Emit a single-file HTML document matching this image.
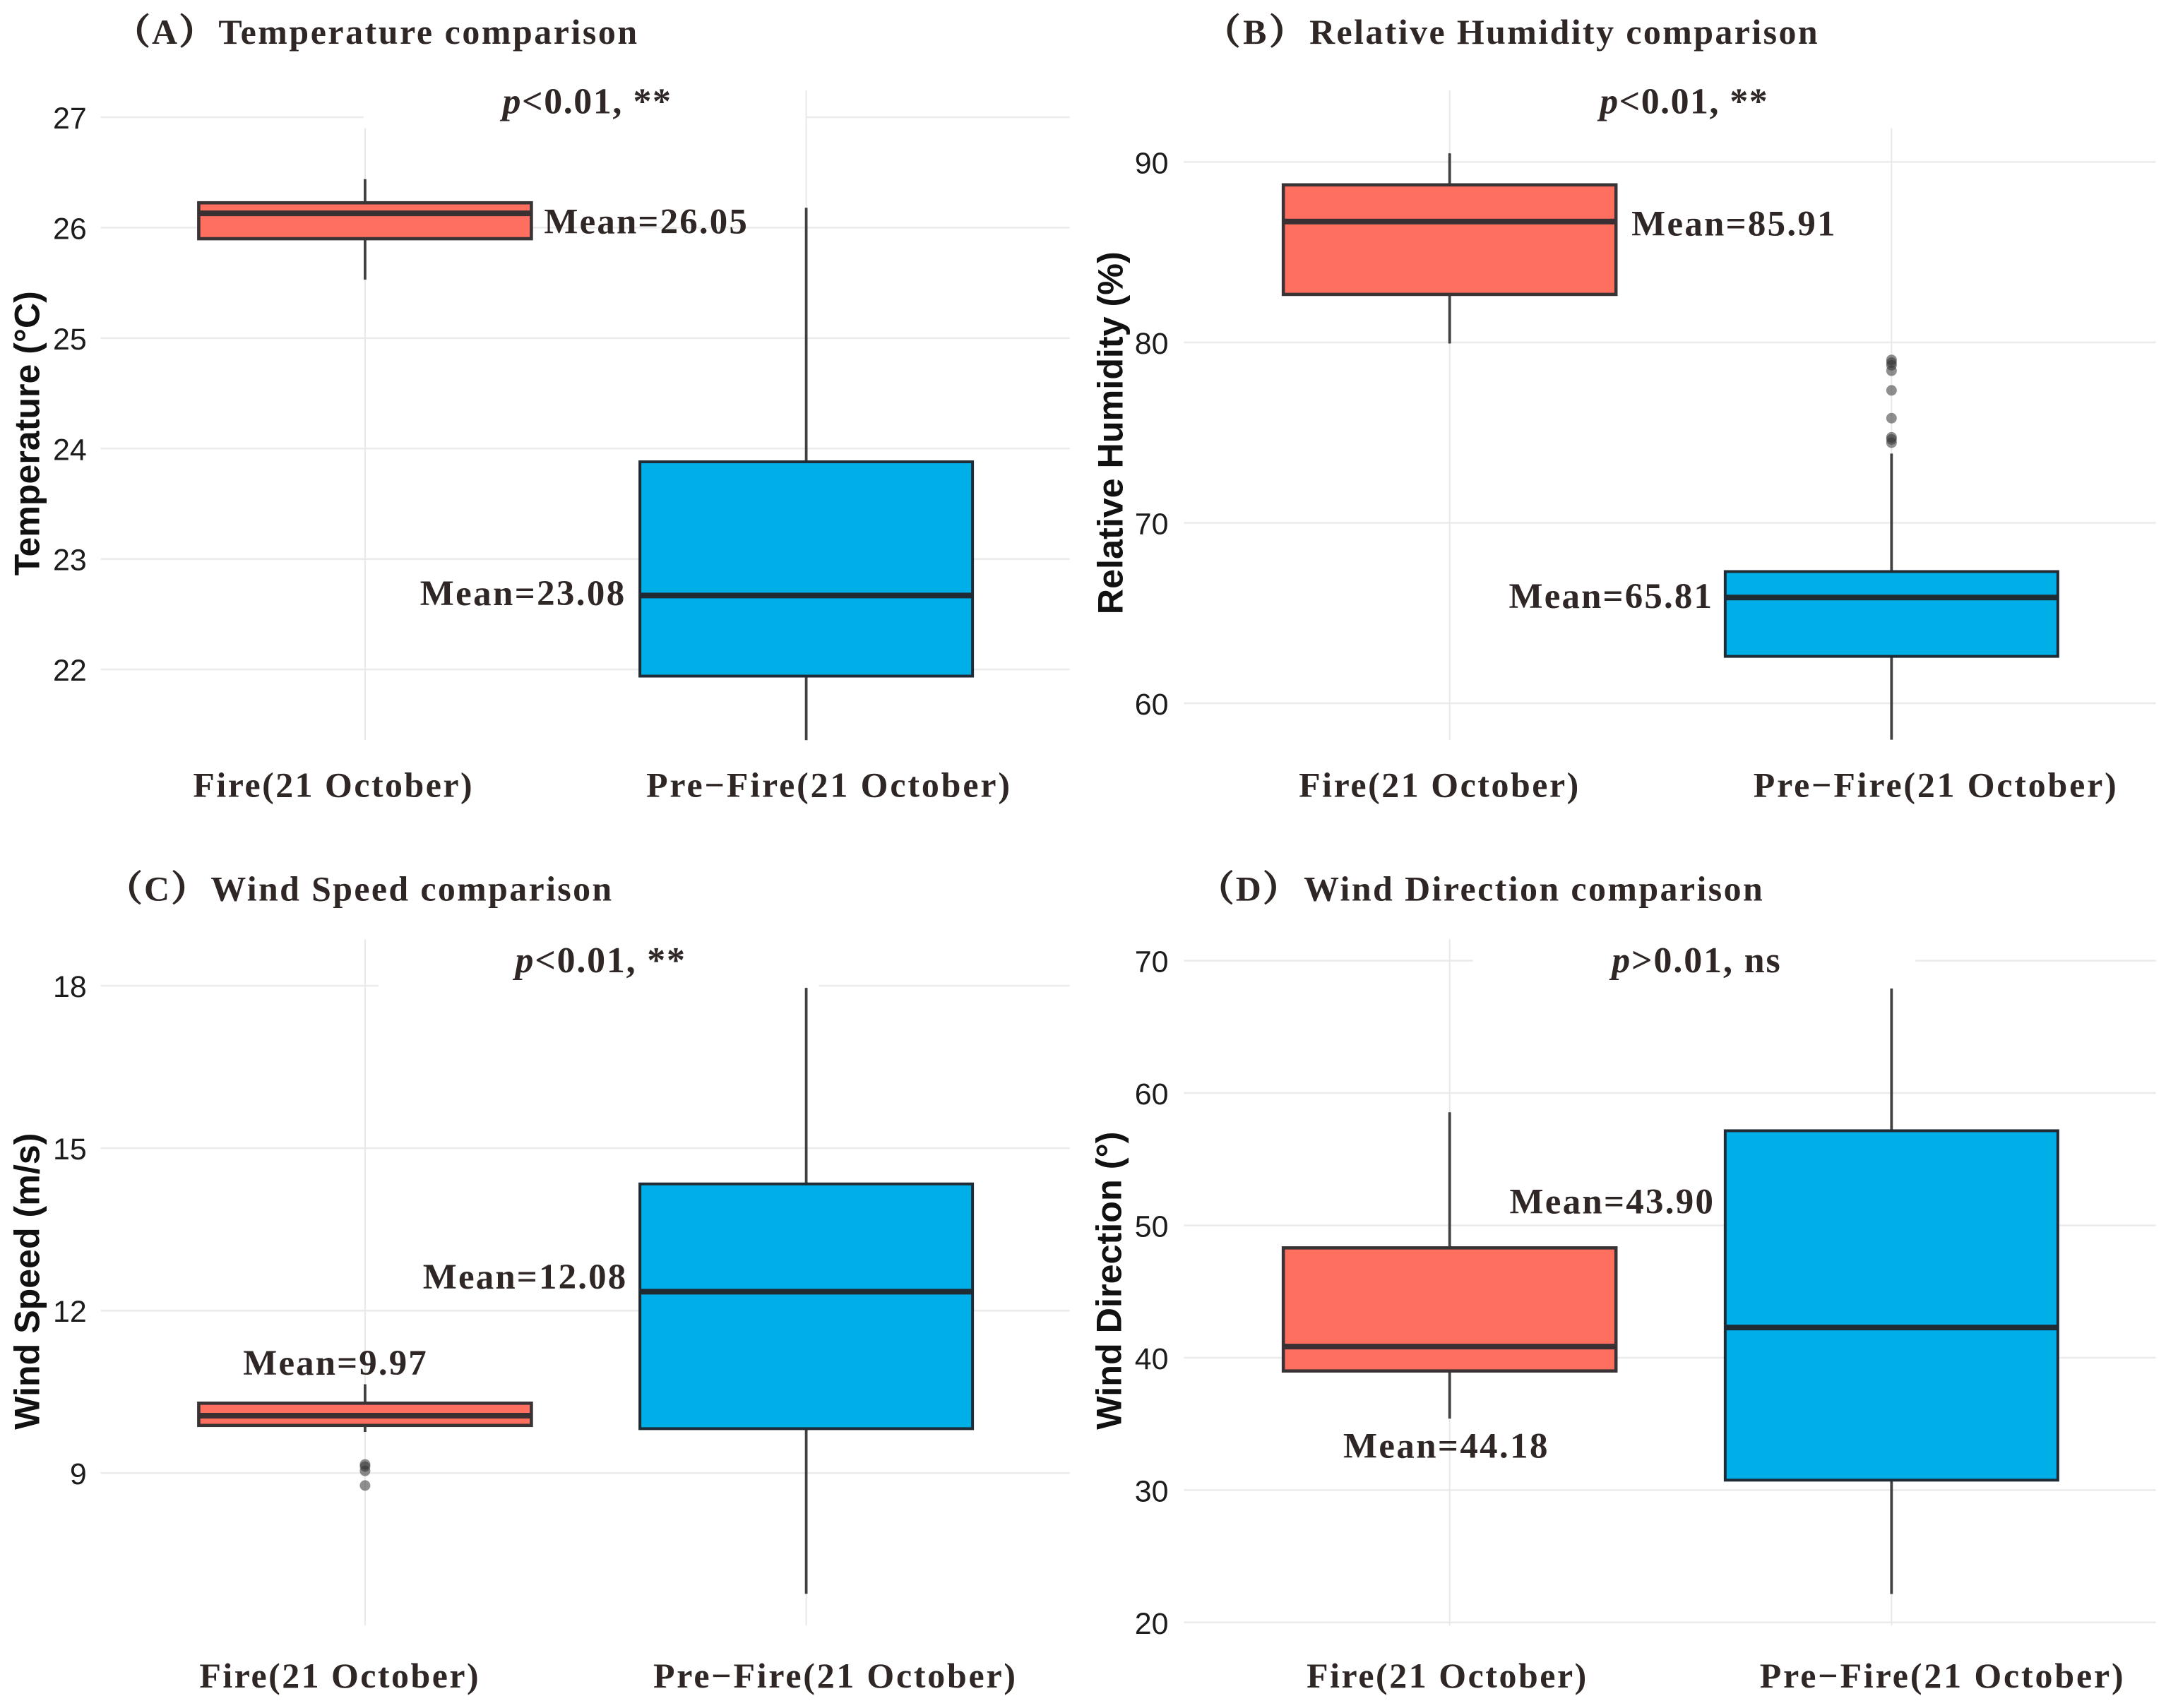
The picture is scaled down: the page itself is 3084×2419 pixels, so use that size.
<!DOCTYPE html>
<html lang="en">
<head>
<meta charset="utf-8">
<title>Meteorological comparison boxplots</title>
<style>
html,body{margin:0;padding:0;background:#fff;}
svg{display:block;}
.serif{font-family:"Liberation Serif","Noto Serif CJK SC",serif;font-weight:bold;fill:#2f2725;}
.title{font-size:50px;}
.paren{stroke:#2f2725;stroke-width:1.6px;}
.plabel{font-size:52px;}
.mean{font-size:51px;}
.xlab{font-size:50px;}
.ytick{font-family:"Liberation Sans",sans-serif;font-size:43px;fill:#1c1c1c;text-anchor:end;}
.ytitle{font-family:"Liberation Sans",sans-serif;font-weight:bold;font-size:50px;fill:#111;}
</style>
</head>
<body>
<svg id="chart" xmlns="http://www.w3.org/2000/svg" width="3084" height="2419" viewBox="0 0 3090.5 2424">
  <rect width="3091" height="2425" fill="#ffffff"/>
  <g id="marks"></g>

  <text class="serif title" x="163" y="62" textLength="141"><tspan class="paren">（</tspan>A<tspan class="paren">）</tspan></text>
  <text class="serif title" x="310" y="62" textLength="594">Temperature comparison</text>
  <text class="serif title" x="1710" y="62" textLength="141"><tspan class="paren">（</tspan>B<tspan class="paren">）</tspan></text>
  <text class="serif title" x="1858" y="62" textLength="721">Relative Humidity comparison</text>
  <text class="serif title" x="152" y="1278" textLength="141"><tspan class="paren">（</tspan>C<tspan class="paren">）</tspan></text>
  <text class="serif title" x="299" y="1278" textLength="569">Wind Speed comparison</text>
  <text class="serif title" x="1701" y="1278" textLength="141"><tspan class="paren">（</tspan>D<tspan class="paren">）</tspan></text>
  <text class="serif title" x="1850" y="1278" textLength="651">Wind Direction comparison</text>

  <text class="ytitle" transform="translate(55.5,817) rotate(-90)" textLength="404" lengthAdjust="spacingAndGlyphs">Temperature (°C)</text>
  <text class="ytitle" transform="translate(1593,872) rotate(-90)" textLength="515" lengthAdjust="spacingAndGlyphs">Relative Humidity (%)</text>
  <text class="ytitle" transform="translate(55.5,2029) rotate(-90)" textLength="421" lengthAdjust="spacingAndGlyphs">Wind Speed (m/s)</text>
  <text class="ytitle" transform="translate(1591,2029) rotate(-90)" textLength="423" lengthAdjust="spacingAndGlyphs">Wind Direction (°)</text>

  <text class="serif plabel" x="713" y="161" textLength="239"><tspan font-style="italic">p</tspan>&lt;0.01, **</text>
  <text class="serif plabel" x="2270" y="161" textLength="238"><tspan font-style="italic">p</tspan>&lt;0.01, **</text>
  <text class="serif plabel" x="731" y="1380" textLength="241"><tspan font-style="italic">p</tspan>&lt;0.01, **</text>
  <text class="serif plabel" x="2287" y="1380" textLength="239"><tspan font-style="italic">p</tspan>&gt;0.01, ns</text>
</svg>
<script>
// Data: boxes are [whisker low, Q1, median, Q3, whisker high]
const categories = ['Fire(21 October)', 'Pre\u2212Fire(21 October)'];

const temperatureTicks = [27, 26, 25, 24, 23, 22];
const temperatureFire = [25.53, 25.90, 26.13, 26.225, 26.44];
const temperaturePre = [21.36, 21.94, 22.67, 23.88, 26.18];
const temperatureFireOutliers = [];
const temperaturePreOutliers = [];
const temperatureMeans = ['26.05', '23.08'];

const humidityTicks = [90, 80, 70, 60];
const humidityFire = [79.94, 82.66, 86.7, 88.73, 90.48];
const humidityPre = [57.98, 62.6, 65.86, 67.3, 73.84];
const humidityFireOutliers = [];
const humidityPreOutliers = [79.03, 78.88, 78.73, 78.43, 77.34, 75.8, 74.74, 74.62, 74.44];
const humidityMeans = ['85.91', '65.81'];

const speedTicks = [18, 15, 12, 9];
const speedFire = [9.76, 9.88, 10.06, 10.29, 10.64];
const speedPre = [6.77, 9.82, 12.35, 14.34, 17.96];
const speedFireOutliers = [9.16, 9.12, 9.04, 8.77];
const speedPreOutliers = [];
const speedMeans = ['9.97', '12.08'];

const directionTicks = [70, 60, 50, 40, 30, 20];
const directionFire = [35.4, 39.0, 40.84, 48.3, 58.55];
const directionPre = [22.15, 30.75, 42.28, 57.15, 67.9];
const directionFireOutliers = [];
const directionPreOutliers = [];
const directionMeans = ['44.18', '43.90'];

const NS = 'http://www.w3.org/2000/svg';
const root = document.getElementById('marks');

function shape(tag, parent, name, props) {
  const el = document.createElementNS(NS, tag);
  for (const k in props) el.setAttribute(k, props[k]);
  
  
  parent.appendChild(el);
  return el;
}
function label(parent, name, cls, str, x, y, width) {
  const el = shape('text', parent, name, {class: cls, x: x, y: y});
  if (width) el.setAttribute('textLength', width);
  el.textContent = str;
  return el;
}

function drawPanel(id, d, g) {
  const grp = shape('g', root, 'panel-' + id, {});
  const dMax = d.ticks[0], dMin = d.ticks[d.ticks.length - 1];
  const y = v => g.tickTop + (dMax - v) * (g.tickBottom - g.tickTop) / (dMax - dMin);
  const x = i => g.cats[i];

  // horizontal grid + tick labels
  d.ticks.forEach(t => {
    shape('line', grp, 'panel-' + id + '-gridline-' + t, {x1: g.left, x2: g.right, y1: y(t), y2: y(t), stroke: '#ebebeb', 'stroke-width': 2.5});
    label(grp, 'panel-' + id + '-y-tick-' + t, 'ytick', String(t), g.tickX, y(t) + 16);
  });
  // vertical grid
  g.cats.forEach((cx, i) => {
    shape('line', grp, 'panel-' + id + '-vertical-gridline-' + i, {x1: cx, x2: cx, y1: g.top, y2: g.bottom, stroke: '#e8e8e8', 'stroke-width': 2});
  });
  // white backing behind significance label
  shape('rect', grp, 'panel-' + id + '-p-value-backing', {x: g.mask[0], y: g.mask[1], width: g.mask[2] - g.mask[0], height: g.mask[3] - g.mask[1], fill: '#ffffff'});

  const series = [
    {key: 'fire', box: d.fire, out: d.fireOut, fill: '#fe6f5f', edge: '#3a3335', edgeWidth: 4.6, mid: '#3a3033'},
    {key: 'pre', box: d.pre, out: d.preOut, fill: '#00aee8', edge: '#1f2c36', edgeWidth: 4, mid: '#1f2a33'}
  ];
  series.forEach((s, i) => {
    const [lo, q1, med, q3, hi] = s.box;
    const cx = x(i);
    shape('line', grp, 'panel-' + id + '-' + s.key + '-whisker', {x1: cx, x2: cx, y1: y(hi), y2: y(lo), stroke: '#404040', 'stroke-width': 3.8});
    shape('rect', grp, 'panel-' + id + '-' + s.key + '-box', {x: cx - g.half, y: y(q3), width: 2 * g.half, height: y(q1) - y(q3), fill: s.fill, stroke: s.edge, 'stroke-width': s.edgeWidth});
    shape('line', grp, 'panel-' + id + '-' + s.key + '-median', {x1: cx - g.half, x2: cx + g.half, y1: y(med), y2: y(med), stroke: s.mid, 'stroke-width': 8});
    s.out.forEach((v, j) => {
      shape('circle', grp, 'panel-' + id + '-' + s.key + '-outlier-' + j, {cx: cx, cy: y(v), r: 7.5, fill: '#333333', 'fill-opacity': 0.55});
    });
    const m = g.means[i];
    label(grp, 'panel-' + id + '-' + s.key + '-mean-label', 'serif mean', 'Mean=' + d.means[i], m[0], m[1], m[2]);
    const xl = g.xlabs[i];
    label(grp, 'panel-' + id + '-' + s.key + '-x-label', 'serif xlab', categories[i], xl[0], g.xlabY, xl[1]);
  });
}

drawPanel('a',
  {ticks: temperatureTicks, fire: temperatureFire, pre: temperaturePre, fireOut: temperatureFireOutliers, preOut: temperaturePreOutliers, means: temperatureMeans},
  {left: 143, right: 1518, top: 128, bottom: 1050, tickTop: 166.3, tickBottom: 950.1, tickX: 123, cats: [518, 1144], half: 236,
   mask: [516, 128, 1143, 182],
   means: [[772, 331, 288], [596, 859, 290]], xlabs: [[274, 396], [917, 516]], xlabY: 1131});

drawPanel('b',
  {ticks: humidityTicks, fire: humidityFire, pre: humidityPre, fireOut: humidityFireOutliers, preOut: humidityPreOutliers, means: humidityMeans},
  {left: 1680, right: 3059, top: 128, bottom: 1050, tickTop: 229.8, tickBottom: 998.1, tickX: 1658, cats: [2057, 2684], half: 236,
   mask: [2059, 128, 2687, 182],
   means: [[2315, 334, 289], [2141, 863, 288]], xlabs: [[1843, 397], [2488, 515]], xlabY: 1131});

drawPanel('c',
  {ticks: speedTicks, fire: speedFire, pre: speedPre, fireOut: speedFireOutliers, preOut: speedPreOutliers, means: speedMeans},
  {left: 143, right: 1518, top: 1333, bottom: 2307, tickTop: 1399, tickBottom: 2090.6, tickX: 123, cats: [518, 1144], half: 236,
   mask: [537, 1333, 1162, 1401],
   means: [[345, 1951, 260], [600, 1829, 288]], xlabs: [[283, 396], [927, 514]], xlabY: 2395});

drawPanel('d',
  {ticks: directionTicks, fire: directionFire, pre: directionPre, fireOut: directionFireOutliers, preOut: directionPreOutliers, means: directionMeans},
  {left: 1680, right: 3059, top: 1333, bottom: 2307, tickTop: 1363.4, tickBottom: 2302.6, tickX: 1658, cats: [2057, 2684], half: 236,
   mask: [2090, 1333, 2718, 1403],
   means: [[1906, 2069, 290], [2142, 1722, 289]], xlabs: [[1854, 397], [2497, 516]], xlabY: 2395});
</script>
</body>
</html>
